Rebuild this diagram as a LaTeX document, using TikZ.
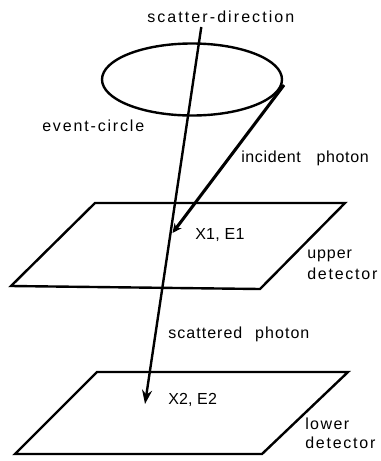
\documentclass[tikz,border=0pt]{standalone}
\usepackage{fontspec}
\setmainfont{Liberation Sans}
\usetikzlibrary{arrows.meta}
\newcommand{\lspc}[1]{\addfontfeature{LetterSpace=#1}}
\tikzset{
  thick line/.style={line width=1.8pt,line join=miter},
  lbl/.style={inner sep=0pt,anchor=base west,font=\fontsize{12pt}{14pt}\selectfont,align=left},
  tip/.style={-{Stealth[length=10.5pt,width=7.5pt]}},
  small tip/.style={-{Stealth[length=7pt,width=6.5pt]}}
}
\begin{document}
\begin{tikzpicture}[x=0.75pt,y=-0.75pt]
\useasboundingbox (0,0) rectangle (381,461);
\coordinate (st) at (201.3,27);
\coordinate (se) at (145,404);
\coordinate (it) at (284,85);
\coordinate (ie) at (172.5,233);
\draw[thick line] (192,79.5) ellipse [x radius=90,y radius=36];
\draw[thick line] (95,203) -- (345,203) -- (260,289) -- (11,286) -- cycle;
\draw[thick line] (97,372) -- (348,372) -- (262,454) -- (15,454) -- cycle;
\draw[thick line,tip] (st) -- (se);
\draw[line width=2.3pt,small tip] (it) -- (ie);
\node[lbl] (a) at (147,22) {\lspc{13}scatter-direction};
\node[lbl] (b) at (42,131) {\lspc{11.5}event-circle};
\node[lbl] (c) at (241,162) {\lspc{4}incident\hspace{8pt} photon};
\node[lbl] (d) at (195,239) {\lspc{2}X1, E1};
\node[lbl] (e) at (307,258) {\lspc{6}upper};
\node[lbl] (f) at (307,279) {\lspc{11}detector};
\node[lbl] (g) at (168,338) {\lspc{6.5}scattered\hspace{5.5pt} photon};
\node[lbl] (h) at (168,404) {\lspc{1}X2, E2};
\node[lbl] (i) at (305,429) {\lspc{9}lower};
\node[lbl] (j) at (305,448) {\lspc{11}detector};
\end{tikzpicture}
\end{document}
